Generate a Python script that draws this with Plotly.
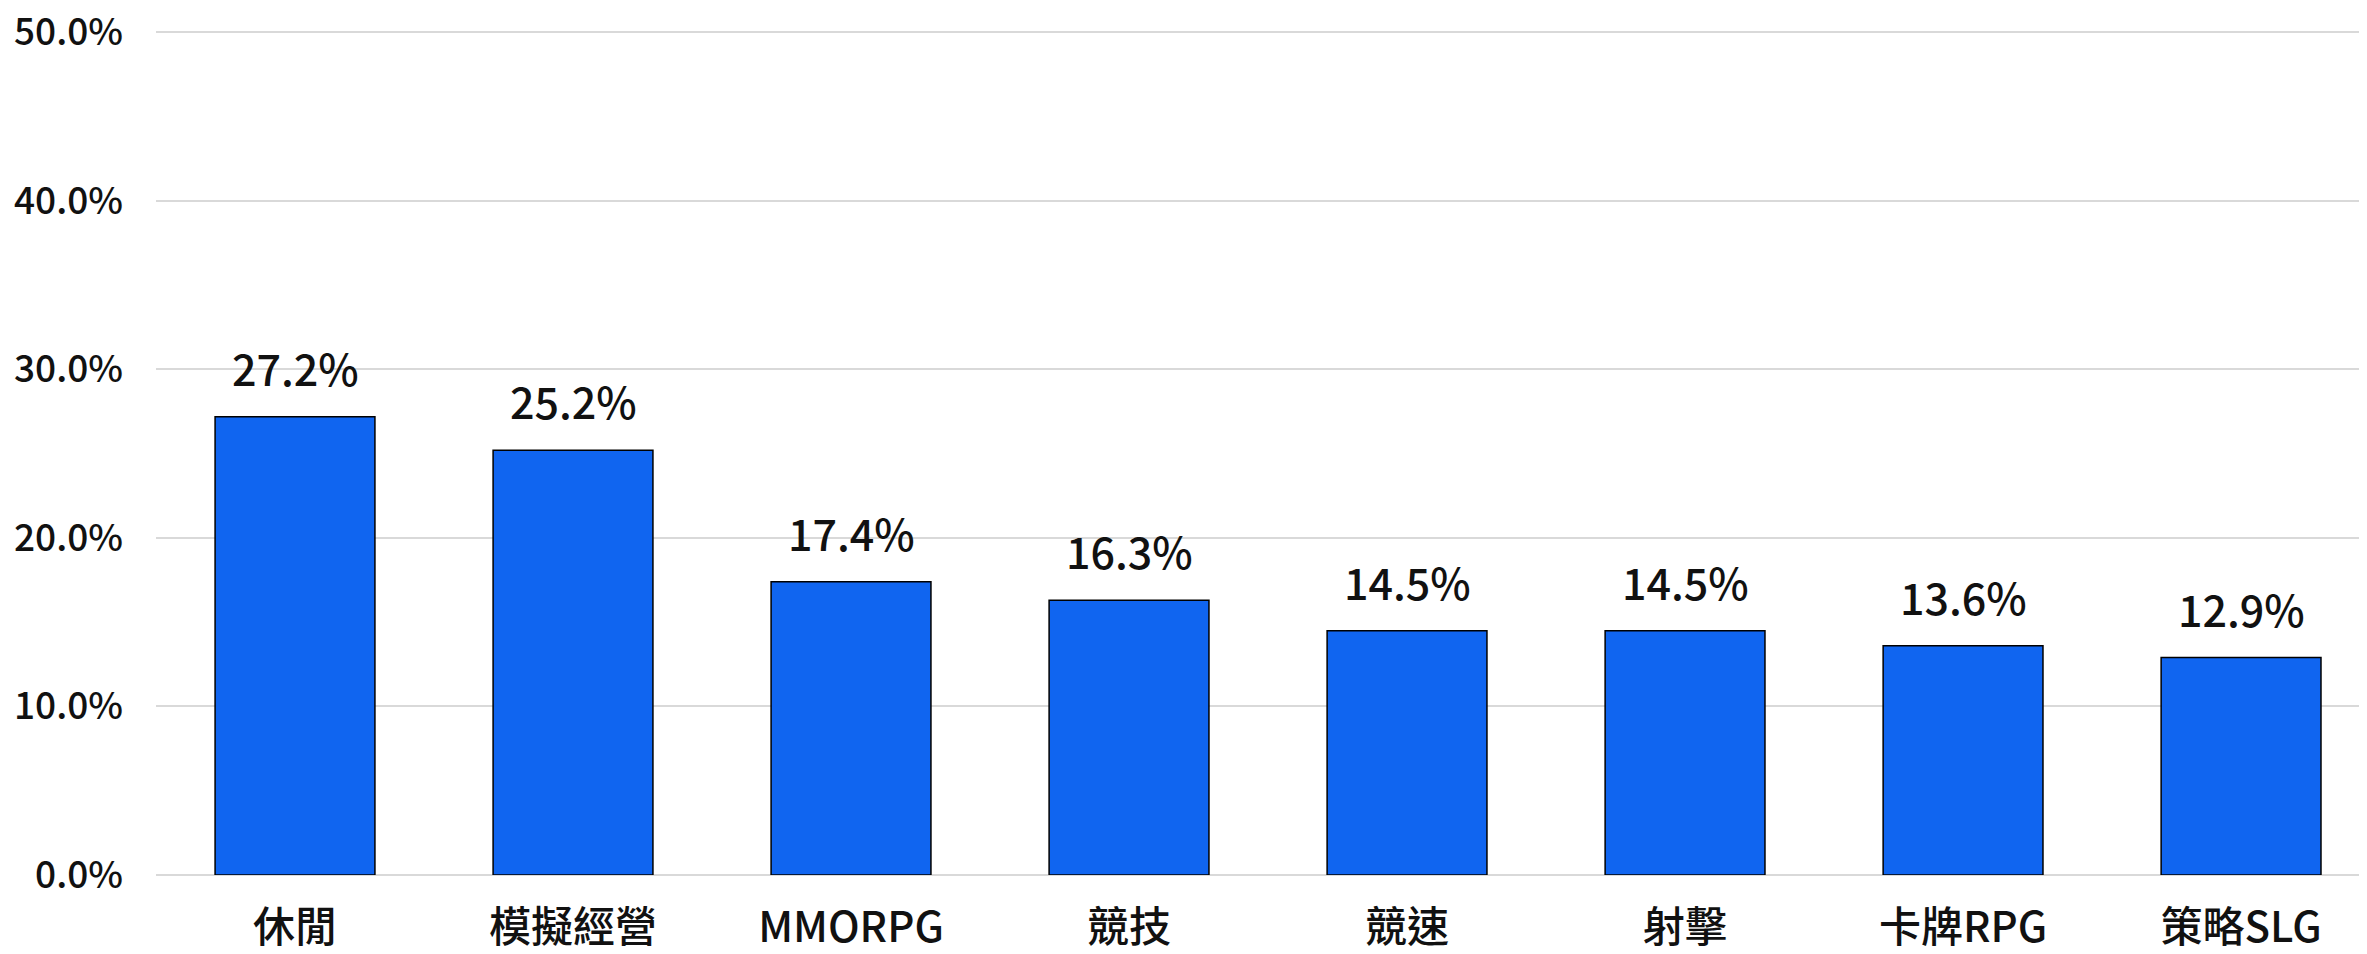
import plotly.graph_objects as go

categories = ["休閒", "模擬經營", "MMORPG", "競技", "競速", "射擊", "卡牌RPG", "策略SLG"]
values = [27.2, 25.2, 17.4, 16.3, 14.5, 14.5, 13.6, 12.9]
value_labels = [f"{v:.1f}%" for v in values]
y_ticks = [0, 10, 20, 30, 40, 50]
y_tick_labels = [f"{t:.1f}%" for t in y_ticks]

FONT = "Noto Sans CJK TC, Noto Sans, sans-serif"

fig = go.Figure()
fig.add_trace(go.Bar(
    x=categories,
    y=values,
    marker=dict(color="#1065F0", line=dict(color="#000000", width=1.5)),
    width=0.575,
    hoverinfo="skip",
))

for c, v, t in zip(categories, values, value_labels):
    fig.add_annotation(x=c, y=v, text=t, showarrow=False, yanchor="bottom",
                       yshift=17, font=dict(family=FONT, size=43, color="#111111", weight=500))

fig.update_layout(
    width=2359, height=946,
    margin=dict(l=148, r=0, t=16, b=79),
    paper_bgcolor="white", plot_bgcolor="white",
    showlegend=False,
    font=dict(family=FONT, size=37, color="#111111"),
)
fig.update_xaxes(
    range=[-0.5, 7.453],
    showgrid=False, showline=False, ticks="",
    tickfont=dict(family=FONT, size=42, color="#111111", weight=500),
    ticklabelstandoff=24,
    ticklabeloverflow="allow",
    automargin=False,
)
fig.update_yaxes(
    range=[0, 50.5], tickvals=y_ticks, ticktext=y_tick_labels,
    showgrid=True, gridcolor="#d9d9d9", gridwidth=2,
    zeroline=True, zerolinecolor="#d9d9d9", zerolinewidth=2,
    showline=False, ticks="",
    tickfont=dict(family=FONT, size=37, color="#111111", weight=500),
    ticklabelstandoff=32,
    ticklabeloverflow="allow",
    automargin=False,
)

fig.write_html("out.html")
